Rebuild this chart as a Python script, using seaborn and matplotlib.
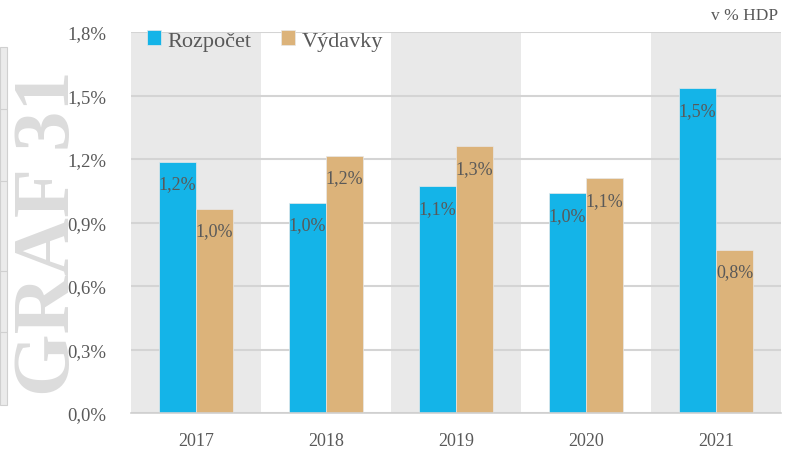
import pandas as pd
import matplotlib.pyplot as plt
import matplotlib.ticker as mticker
from matplotlib.patches import Rectangle
import seaborn as sns

# Data (v % HDP)
roky = ['2017', '2018', '2019', '2020', '2021']
rozpocet = [1.186, 0.992, 1.072, 1.039, 1.535]
vydavky = [0.964, 1.214, 1.261, 1.110, 0.770]
yticks = [0.0, 0.3, 0.6, 0.9, 1.2, 1.5, 1.8]

df = pd.DataFrame({
    'rok': roky * 2,
    'hodnota': rozpocet + vydavky,
    'ukazatel': ['Rozpočet'] * len(roky) + ['Výdavky'] * len(roky),
})

sns.set_style('white')
plt.rcParams['font.family'] = ['Liberation Serif', 'DejaVu Serif']
text_col = '#595959'

fig = plt.figure(figsize=(7.93, 4.52), dpi=100)
ax = fig.add_axes([131 / 793, 1 - 414 / 452, 650 / 793, 381 / 452])
ax.patch.set_alpha(0)

# watermark behind everything
fig.text(49 / 793, 1 - 233 / 452, 'GRAF 31', rotation=90, ha='center', va='center',
         fontsize=58, fontweight='bold', color='#dcdcdc', zorder=-5)

# cut-off piece of the neighbouring chart on the left edge
fig.patches.append(Rectangle((0, 1 - 406 / 452), 7 / 793, 358 / 452, transform=fig.transFigure,
                             facecolor='#ebebeb', edgecolor='#d0d0d0', lw=0.8, zorder=-6))
for yy in [110, 182, 272, 333]:
    fig.lines.append(plt.Line2D([0, 7 / 793], [1 - yy / 452] * 2, transform=fig.transFigure,
                                color='#d0d0d0', lw=0.8, zorder=-5))

# alternating bands
for i in range(len(roky)):
    if i % 2 == 0:
        ax.axvspan(i - 0.5, i + 0.5, color='#e9e9e9', zorder=0, lw=0)

for t in yticks:
    ax.axhline(t, color='#d4d4d4', lw=1.5, zorder=0.5)

sns.barplot(data=df, x='rok', y='hodnota', hue='ukazatel',
            palette=['#14b4e8', '#dcb37a'], saturation=1, width=0.57, ax=ax,
            edgecolor='#e8e8e8', linewidth=0.5, zorder=2)

for cont in ax.containers:
    labels = [f'{v:.1f}%'.replace('.', ',') for v in cont.datavalues]
    ax.bar_label(cont, labels=labels, padding=-22, fontsize=13, color=text_col)

ax.set_xlim(-0.5, len(roky) - 0.5)
ax.set_ylim(0, 1.8)
ax.set_yticks(yticks)
ax.yaxis.set_major_formatter(mticker.FuncFormatter(lambda v, p: f'{v:.1f}%'.replace('.', ',')))
ax.set_xlabel('')
ax.set_ylabel('')
ax.tick_params(axis='y', length=0, labelsize=13.5, labelcolor=text_col, pad=18)
ax.tick_params(axis='x', which='major', length=0, labelsize=13, labelcolor=text_col, pad=14)
ax.set_xticks([i - 0.5 for i in range(len(roky) + 1)], minor=True)
ax.tick_params(axis='x', which='minor', length=8, color='#d0d0d0', width=1)
for s in ['top', 'right', 'left']:
    ax.spines[s].set_visible(False)
ax.spines['bottom'].set_color('#d0d0d0')
ax.spines['bottom'].set_linewidth(1.2)

leg = ax.legend(loc='upper left', ncol=2, frameon=False, fontsize=16,
                handlelength=0.65, handleheight=0.65, handletextpad=0.3,
                columnspacing=1.3, bbox_to_anchor=(0.0, 1.045), borderaxespad=0.3)
for t in leg.get_texts():
    t.set_color(text_col)

fig.text(745 / 793, 1 - 16 / 452, 'v % HDP', ha='center', va='center', fontsize=12.5, color=text_col)

fig.savefig('out.png', dpi=100)
